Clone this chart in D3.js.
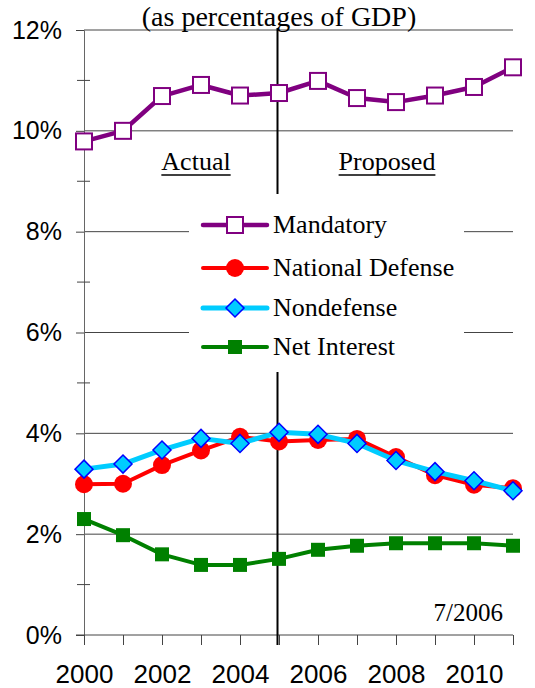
<!DOCTYPE html>
<html>
<head>
<meta charset="utf-8">
<script src="https://cdn.jsdelivr.net/npm/d3@7"></script>
<style>
  body { margin: 0; background: #fff; }
  svg { display: block; }
</style>
</head>
<body>
<svg id="chart"></svg>
<script>
const years = [2000, 2001, 2002, 2003, 2004, 2005, 2006, 2007, 2008, 2009, 2010, 2011];
const yearLabels = [2000, 2002, 2004, 2006, 2008, 2010];
const mandatory = [9.79, 10.0, 10.69, 10.91, 10.7, 10.75, 10.99, 10.65, 10.57, 10.7, 10.87, 11.26];
const nationalDefense = [2.99, 3.0, 3.37, 3.66, 3.93, 3.84, 3.87, 3.89, 3.53, 3.17, 2.98, 2.91];
const nondefense = [3.29, 3.39, 3.67, 3.9, 3.8, 4.02, 3.98, 3.8, 3.46, 3.24, 3.06, 2.86];
const netInterest = [2.3, 1.98, 1.6, 1.39, 1.39, 1.51, 1.69, 1.77, 1.82, 1.82, 1.82, 1.77];
const yTicks = [0, 2, 4, 6, 8, 10, 12];
const yMinor = [1, 3, 5, 7, 9, 11];
const seriesNames = ['Mandatory', 'National Defense', 'Nondefense', 'Net Interest'];

const WIDTH = 535;
const HEIGHT = 688;
const X0 = 84, X1 = 513, Y0 = 635, Y1 = 30;

const svg = d3.select('#chart').attr('width', WIDTH).attr('height', HEIGHT);

const x = d3.scaleLinear().domain([2000, 2011]).range([X0, X1]);
const y = d3.scaleLinear().domain([0, 12]).range([Y0, Y1]);

// grid lines
svg.append('g')
    .selectAll('line')
    .data(yTicks.slice(1))
    .join('line')
    .attr('x1', X0).attr('x2', X1)
    .attr('y1', d => y(d)).attr('y2', d => y(d))
    .attr('stroke', '#444').attr('stroke-width', 1);

// y axis
const yAxis = d3.axisLeft(y).tickValues(yTicks).tickSize(8).tickFormat(d => d + '%');
const gy = svg.append('g').attr('transform', 'translate(' + X0 + ',0)').call(yAxis);
gy.select('.domain').attr('stroke', '#666');
gy.selectAll('.tick line').attr('stroke', '#444');
gy.selectAll('.tick text')
    .attr('x', -22)
    .attr('font-family', 'Liberation Sans, Arial, sans-serif')
    .attr('font-size', 25)
    .attr('fill', '#000');

// minor ticks crossing the axis
svg.append('g')
    .selectAll('line')
    .data(yMinor)
    .join('line')
    .attr('x1', X0 - 7).attr('x2', X0 + 6)
    .attr('y1', d => y(d)).attr('y2', d => y(d))
    .attr('stroke', '#444');

// x axis
const xAxis = d3.axisBottom(x).tickValues(years).tickSize(10).tickFormat(d => yearLabels.includes(d) ? d : '');
const gx = svg.append('g').attr('transform', 'translate(0,' + Y0 + ')').call(xAxis);
gx.select('.domain').remove();
gx.append('line').attr('x1', X0 - 8).attr('x2', X1).attr('stroke', '#444');
gx.selectAll('.tick line').attr('stroke', '#444');
gx.selectAll('.tick text')
    .attr('y', 30)
    .attr('font-family', 'Liberation Sans, Arial, sans-serif')
    .attr('font-size', 26)
    .attr('fill', '#000');

// actual / proposed divider
svg.append('line')
    .attr('x1', x(2005) - 1.5).attr('x2', x(2005) - 1.5)
    .attr('y1', y(12) - 2).attr('y2', Y0 + 10)
    .attr('stroke', '#000').attr('stroke-width', 2);

// title and notes
const serif = 'Liberation Serif, Times New Roman, serif';
svg.append('text').attr('x', 279).attr('y', 26).attr('text-anchor', 'middle')
    .attr('font-family', serif).attr('font-size', 28).text('(as percentages of GDP)');

function underlined(label, cx, cy) {
    const t = svg.append('text').attr('x', cx).attr('y', cy).attr('text-anchor', 'middle')
        .attr('font-family', serif).attr('font-size', 26).text(label);
    const w = t.node().getComputedTextLength();
    svg.append('line').attr('x1', cx - w / 2).attr('x2', cx + w / 2)
        .attr('y1', cy + 5).attr('y2', cy + 5).attr('stroke', '#000').attr('stroke-width', 1.5);
}
underlined('Actual', 196, 170);
underlined('Proposed', 387, 170);

svg.append('text').attr('x', 503).attr('y', 621).attr('text-anchor', 'end')
    .attr('font-family', serif).attr('font-size', 25).text('7/2006');

// series
const line = d3.line().x((d, i) => x(years[i])).y(d => y(d));

const styles = [
    { data: mandatory, color: '#800080', width: 4.5, marker: (g) => g.append('rect').attr('x', -8).attr('y', -8).attr('width', 16).attr('height', 16).attr('fill', '#fff').attr('stroke', '#800080').attr('stroke-width', 2) },
    { data: nationalDefense, color: '#ff0000', width: 4, marker: (g) => g.append('circle').attr('r', 9).attr('fill', '#ff0000') },
    { data: nondefense, color: '#00ccff', width: 5, marker: (g) => g.append('path').attr('d', 'M0,-9L9,0L0,9L-9,0Z').attr('fill', '#00ccff').attr('stroke', '#0000ff').attr('stroke-width', 1.5) },
    { data: netInterest, color: '#008000', width: 4, marker: (g) => g.append('rect').attr('x', -7).attr('y', -7).attr('width', 14).attr('height', 14).attr('fill', '#008000') }
];

styles.forEach(s => {
    svg.append('path').datum(s.data)
        .attr('d', line)
        .attr('fill', 'none')
        .attr('stroke', s.color)
        .attr('stroke-width', s.width)
        .attr('stroke-linejoin', 'round');
    svg.append('g').selectAll('g')
        .data(s.data)
        .join('g')
        .attr('transform', (d, i) => 'translate(' + x(years[i]) + ',' + y(d) + ')')
        .each(function () { s.marker(d3.select(this)); });
});

// legend
const legend = svg.append('g');
legend.append('rect').attr('x', 189).attr('y', 194).attr('width', 275).attr('height', 178).attr('fill', '#fff');
const rowY = [225, 268, 308, 347];
styles.forEach((s, i) => {
    const row = legend.append('g').attr('transform', 'translate(0,' + rowY[i] + ')');
    row.append('line').attr('x1', 203).attr('x2', 267).attr('stroke', s.color).attr('stroke-width', s.width).attr('stroke-linecap', 'round');
    const m = row.append('g').attr('transform', 'translate(235,0)');
    s.marker(m);
    row.append('text').attr('x', 273).attr('y', 8)
        .attr('font-family', serif).attr('font-size', 26).text(seriesNames[i]);
});
</script>
</body>
</html>
